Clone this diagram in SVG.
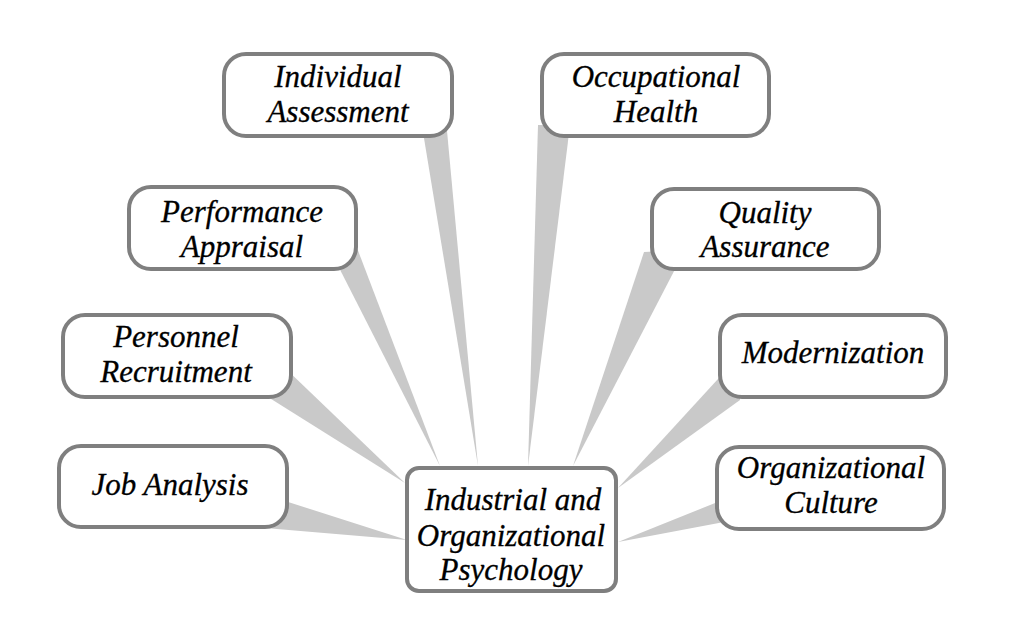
<svg xmlns="http://www.w3.org/2000/svg" width="1024" height="640" viewBox="0 0 1024 640">
<style>
.box{fill:#ffffff;stroke:#7f7f7f;stroke-width:4}
.t{font-family:'Liberation Serif','Times New Roman',serif;font-style:italic;font-size:31px;fill:#000000;stroke:#000000;stroke-width:0.3;text-anchor:middle}
.w{fill:#c9c9c9}
</style>
<rect width="1024" height="640" fill="#ffffff"/>
<g id="connectors">
<polygon class="w" points="421,120 446,120 478,466"/>
<polygon class="w" points="538,125 570,125 528,466"/>
<polygon class="w" points="330,250 354,240 440,466"/>
<polygon class="w" points="644,252 685,250 573,466"/>
<polygon class="w" points="260,344 260,392 405,483"/>
<polygon class="w" points="260,493 265,528 407,540"/>
<polygon class="w" points="740,355 740,400 618,488"/>
<polygon class="w" points="740,493 740,519 618,542"/>
</g>
<g id="individual-assessment">
<rect class="box" x="224" y="54" width="228" height="82" rx="22"/>
<text class="t" x="338" y="87">Individual</text>
<text class="t" x="338" y="122">Assessment</text>
</g>
<g id="occupational-health">
<rect class="box" x="542" y="54" width="227" height="82" rx="22"/>
<text class="t" x="656" y="87">Occupational</text>
<text class="t" x="656" y="122">Health</text>
</g>
<g id="performance-appraisal">
<rect class="box" x="129" y="187" width="227" height="82" rx="22"/>
<text class="t" x="242" y="222">Performance</text>
<text class="t" x="242" y="257">Appraisal</text>
</g>
<g id="quality-assurance">
<rect class="box" x="652" y="189" width="227" height="80" rx="22"/>
<text class="t" x="765" y="223">Quality</text>
<text class="t" x="765" y="257">Assurance</text>
</g>
<g id="personnel-recruitment">
<rect class="box" x="63" y="315" width="228" height="82" rx="22"/>
<text class="t" x="176" y="347">Personnel</text>
<text class="t" x="176" y="382">Recruitment</text>
</g>
<g id="modernization">
<rect class="box" x="720" y="315" width="226" height="82" rx="22"/>
<text class="t" x="833" y="363">Modernization</text>
</g>
<g id="job-analysis">
<rect class="box" x="59" y="446" width="228" height="81" rx="22"/>
<text class="t" x="170" y="495">Job Analysis</text>
</g>
<g id="organizational-culture">
<rect class="box" x="717" y="447" width="227" height="82" rx="22"/>
<text class="t" x="831" y="478">Organizational</text>
<text class="t" x="831" y="513">Culture</text>
</g>
<g id="industrial-organizational-psychology">
<rect class="box" x="407" y="468" width="209" height="123" rx="12"/>
<text class="t" x="513" y="510">Industrial and</text>
<text class="t" x="511" y="546">Organizational</text>
<text class="t" x="511" y="580">Psychology</text>
</g>
</svg>
